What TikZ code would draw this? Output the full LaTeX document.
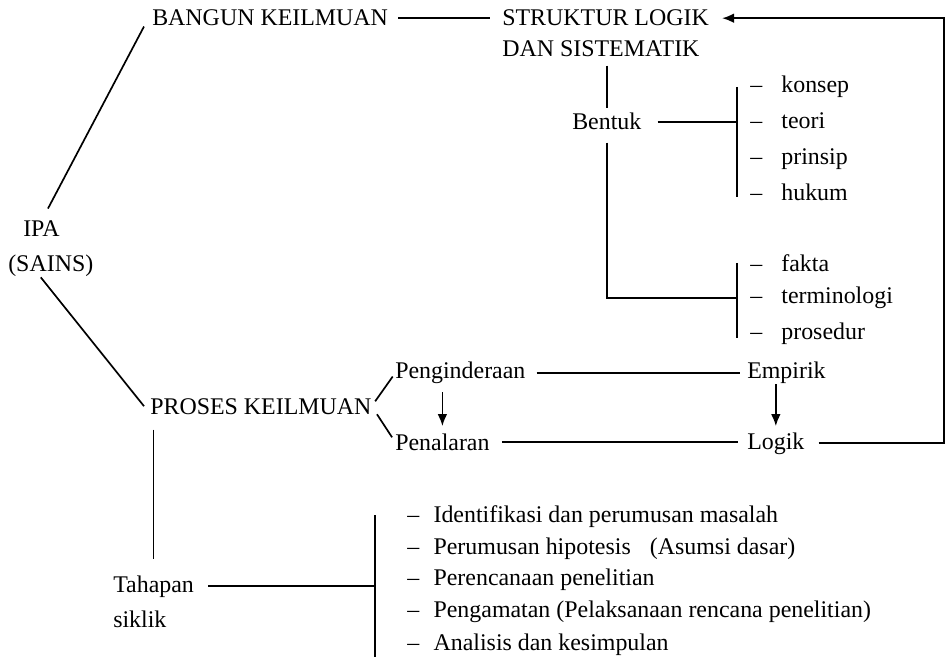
\documentclass[tikz,border=0pt]{standalone}
\usepackage{fontspec}
\setmainfont{Liberation Serif}
\usetikzlibrary{arrows.meta}

\begin{document}
\begin{tikzpicture}[x=0.025cm,y=-0.025cm,tx/.style={inner sep=0pt,anchor=base west,font=\fontsize{17}{20}\selectfont},ln/.style={line width=1.2pt},a/.style={ln,-{Latex[length=3mm,width=2.4mm]}}]
\useasboundingbox (0,0) rectangle (946,668);
\node[tx] (ipa) at (23,237) {IPA};
\node[tx] (sains) at (8,272) {(SAINS)};
\node[tx] (bangun) at (152,26) {BANGUN KEILMUAN};
\node[tx] (strukt) at (502,26) {STRUKTUR LOGIK};
\node[tx] (sist) at (502,57) {DAN SISTEMATIK};
\node[tx] (bentuk) at (572,130) {Bentuk};
\node[tx] (konsep) at (750,93) {--\hspace{.8em}konsep};
\node[tx] (teori) at (750,129) {--\hspace{.8em}teori};
\node[tx] (prinsip) at (750,165) {--\hspace{.8em}prinsip};
\node[tx] (hukum) at (750,201) {--\hspace{.8em}hukum};
\node[tx] (fakta) at (750,272) {--\hspace{.8em}fakta};
\node[tx] (term) at (750,304) {--\hspace{.8em}terminologi};
\node[tx] (prosed) at (750,340) {--\hspace{.8em}prosedur};
\node[tx] (proses) at (150,414) {PROSES KEILMUAN};
\node[tx] (peng) at (395,379) {Penginderaan};
\node[tx] (pen) at (395,450) {Penalaran};
\node[tx] (emp) at (747,379) {Empirik};
\node[tx] (logik) at (747,449) {Logik};
\node[tx] (tahapan) at (113,592) {Tahapan};
\node[tx] (siklik) at (113,627) {siklik};
\node[tx] (idf) at (407,522) {--\hspace{.6em}Identifikasi dan perumusan masalah};
\node[tx] (hip) at (407,554) {--\hspace{.6em}Perumusan hipotesis\hspace{.8em}(Asumsi dasar)};
\node[tx] (ren) at (407,585) {--\hspace{.6em}Perencanaan penelitian};
\node[tx] (amat) at (407,617) {--\hspace{.6em}Pengamatan (Pelaksanaan rencana penelitian)};
\node[tx] (anal) at (407,650) {--\hspace{.6em}Analisis dan kesimpulan};
\coordinate (b1t) at (737,87); \coordinate (b1b) at (737,197);
\coordinate (b2t) at (737,263); \coordinate (b2b) at (737,338);
\coordinate (b3t) at (375,515); \coordinate (b3b) at (375,657);
\coordinate (rt) at (944,15);
\draw[ln,shorten <=3.5mm] (ipa.north) -- ([xshift=-2mm]bangun.south west);
\draw[ln] ([xshift=-2.5mm]sains.south) -- ([xshift=-1.5mm]proses.west);
\draw[ln,shorten <=2.5mm,shorten >=3mm] (bangun.east) -- (bangun.east -| strukt.west);
\draw[ln,shorten <=2mm,shorten >=1.25mm] (sist.south -| bentuk.north) -- (bentuk.north);
\draw[ln,shorten <=4mm] (bentuk.east) -- (bentuk.east -| b1t);
\draw[ln] (b1t) -- (b1b);
\draw[ln,shorten <=3mm] (bentuk.south) |- (term.west -| b2t);
\draw[ln] (b2t) -- (b2b);
\draw[ln,shorten <=1.5mm,shorten >=1mm] (proses.east) -- (peng.west);
\draw[ln,shorten <=2.4mm,shorten >=1.35mm] (proses.east) -- (pen.west);
\draw[ln,shorten <=2.75mm,shorten >=1.75mm] (peng.east) -- (peng.east -| emp.west);
\draw[a,shorten <=2mm,shorten >=1.75mm] (pen.north |- peng.south) -- (pen.north);
\draw[a,shorten >=1.5mm] (emp.south -| logik.north) -- (logik.north);
\draw[ln,shorten <=3mm,shorten >=2.25mm] (pen.east) -- (pen.east -| logik.west);
\draw[a,shorten <=3.5mm,shorten >=3.25mm] (logik.east) -- (logik.east -| rt) |- (strukt.east);
\draw[ln,shorten <=3.75mm,shorten >=4mm] (proses.south -| tahapan.north) -- (tahapan.north);
\draw[ln,shorten <=3.5mm] (tahapan.east) -- (tahapan.east -| b3t);
\draw[ln] (b3t) -- (b3b);
\end{tikzpicture}
\end{document}
